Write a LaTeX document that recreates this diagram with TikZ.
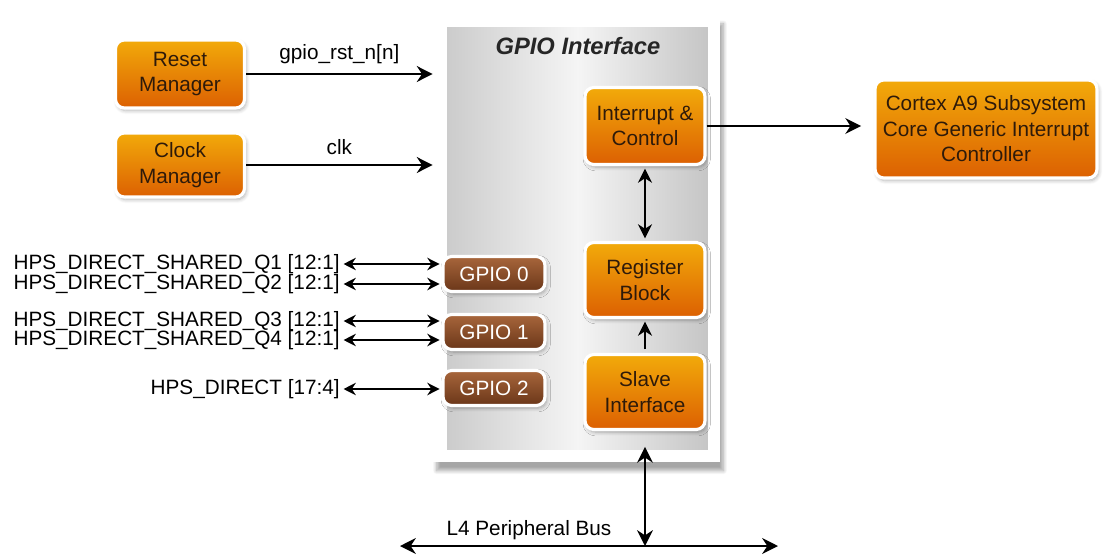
\documentclass[tikz,border=0pt]{standalone}
\usepackage{fontspec}
\setmainfont{Liberation Sans}
\usetikzlibrary{positioning,arrows.meta,shadows,shadows.blur}

\definecolor{blocktop}{HTML}{F2AA0A}
\definecolor{blockbot}{HTML}{DC6002}
\definecolor{gpiotop}{HTML}{A8663C}
\definecolor{gpiobot}{HTML}{6A3618}
\definecolor{blocktext}{HTML}{2E1A0A}

\begin{document}
\begin{tikzpicture}[x=0.02cm,y=-0.02cm,
  every node/.style={font=\fontsize{11.8}{14.5}\selectfont},
  block/.style={rectangle,rounded corners=5pt,draw=white,line width=1.8pt,
    top color=blocktop,bottom color=blockbot,text=blocktext,align=center,
    blur shadow={shadow blur steps=6,shadow xshift=1pt,shadow yshift=-1.5pt,shadow opacity=30}},
  gpiobox/.style={rectangle,rounded corners=5pt,draw=white,line width=1.8pt,
    top color=gpiotop,bottom color=gpiobot,text=white,
    minimum width=2.04cm,minimum height=0.7cm,
    blur shadow={shadow blur steps=6,shadow xshift=1pt,shadow yshift=-1.5pt,shadow opacity=30}},
  sig/.style={anchor=east,inner sep=0pt},
  arr/.style={line width=1.1pt,-{Stealth[length=9pt,width=9pt]}},
  dbl/.style={line width=1.1pt,{Stealth[length=7pt,width=7pt]}-{Stealth[length=7pt,width=7pt]}}]
  \useasboundingbox (0,0) rectangle (1103,558);

  % GPIO panel
  \node[fill=white,minimum width=5.74cm,minimum height=8.94cm,inner sep=0pt,
    blur shadow={shadow blur steps=10,shadow xshift=2pt,shadow yshift=-5pt,shadow opacity=35}]
    (frame) at (576.5,238.5) {};
  \node[left color=gray!40,right color=gray!45,middle color=gray!8,
    minimum width=5.22cm,minimum height=8.46cm,inner sep=0pt] (gpio) at (577.5,238.5) {};
  \node[font=\fontsize{13.5}{16}\selectfont\bfseries\itshape,text=black!85] (title) at (578,46) {GPIO Interface};

  % managers on the left
  \node[block,minimum width=2.58cm,minimum height=1.36cm] (reset) at (180,74) {Reset\\Manager};
  \node[block,minimum width=2.58cm,minimum height=1.28cm] (clock) at (180,165) {Clock\\Manager};

  % blocks inside the panel
  \node[block,minimum width=2.4cm,minimum height=1.54cm] (intr) at (645,126) {Interrupt \&\\Control};
  \node[block,minimum width=2.4cm,minimum height=1.5cm] (reg) at (645,280) {Register\\Block};
  \node[block,minimum width=2.4cm,minimum height=1.5cm] (slave) at (645,392) {Slave\\Interface};
  \node[block,minimum width=4.44cm,minimum height=1.96cm] (cortex) at (986,129)
    {Cortex A9 Subsystem\\Core Generic Interrupt\\Controller};

  \node[gpiobox] (g0) at (494,274) {GPIO 0};
  \node[gpiobox] (g1) at (494,332) {GPIO 1};
  \node[gpiobox] (g2) at (494,388) {GPIO 2};

  % pin labels
  \node[sig] (q1) at (340,264) {HPS\_DIRECT\_SHARED\_Q1 [12:1]};
  \node[sig] (q2) at (340,284) {HPS\_DIRECT\_SHARED\_Q2 [12:1]};
  \node[sig] (q3) at (340,321) {HPS\_DIRECT\_SHARED\_Q3 [12:1]};
  \node[sig] (q4) at (340,340) {HPS\_DIRECT\_SHARED\_Q4 [12:1]};
  \node[sig] (hd) at (340,389) {HPS\_DIRECT [17:4]};

  \foreach \s/\g in {q1/g0,q2/g0,q3/g1,q4/g1,hd/g2}
    \draw[dbl,shorten <=2pt,shorten >=1pt] (\s.east) -- (\s.east -| \g.west);

  % inputs and output
  \draw[arr] (reset.east) -- node[above=2pt] (rstlbl) {gpio\_rst\_n[n]} (reset.east -| frame.west);
  \draw[arr] (clock.east) -- node[above=2pt] (clklbl) {clk} (clock.east -| frame.west);
  \draw[arr,shorten >=7pt] (intr.east) -- (intr.east -| cortex.west);

  \draw[dbl,{Stealth[length=8pt,width=8pt]}-{Stealth[length=8pt,width=8pt]},shorten <=1.5pt,shorten >=1.5pt] (intr) -- (reg);
  \draw[arr,-{Stealth[length=8pt,width=8pt]},shorten <=2pt,shorten >=1.5pt] (slave) -- (reg);

  % L4 bus
  \coordinate (busl) at (400,546);
  \coordinate (busr) at (778,546);
  \draw[arr,{Stealth[length=9pt,width=9pt]}-{Stealth[length=9pt,width=9pt]}] (busl) -- (busr);
  \draw[arr,{Stealth[length=9pt,width=9pt]}-{Stealth[length=9pt,width=9pt]},shorten <=9pt] (slave.south) -- (slave.south |- busl);
  \node (buslbl) at (529,530) {L4 Peripheral Bus};
\end{tikzpicture}
\end{document}
